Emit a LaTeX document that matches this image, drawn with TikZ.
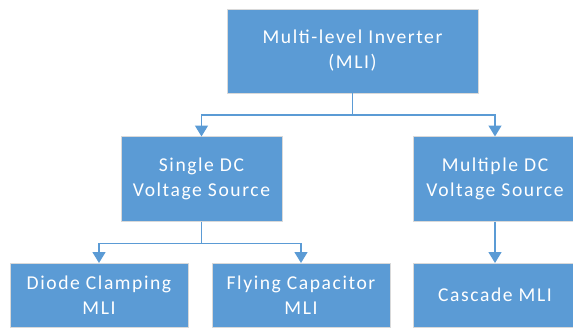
\documentclass[tikz,border=0pt]{standalone}
\usepackage{fontspec}
\setmainfont{Carlito}[LetterSpace=8]
\usetikzlibrary{arrows.meta}
\definecolor{boxblue}{HTML}{5B9BD5}
\definecolor{boxedge}{HTML}{D9D9D9}
\tikzset{
  box/.style={rectangle, fill=boxblue, draw=boxedge, line width=0.8pt, outer sep=0pt,
    inner sep=0pt, align=center, text=white,
    font=\fontsize{19.6}{25}\selectfont},
  conn/.style={draw=boxblue, line width=1.5pt, -{Triangle[length=11pt,width=13pt]}}
}
\begin{document}
\begin{tikzpicture}[x=1pt,y=-1pt]
\useasboundingbox (0,0) rectangle (573,327);
\clip (0,0) rectangle (573,327);
\node[box, minimum width=251pt, minimum height=84pt] (top) at (352.5,51) {Multi-level Inverter\\(MLI)};
\node[box, minimum width=161pt, minimum height=85pt] (single) at (201.5,179) {Single DC\\Voltage Source};
\node[box, minimum width=164pt, minimum height=85pt] (multi) at (495,179) {Multiple DC\\Voltage Source};
\node[box, minimum width=178pt, minimum height=64pt] (diode) at (99,295) {Diode Clamping\\MLI};
\node[box, minimum width=178pt, minimum height=64pt] (flying) at (301,295) {Flying Capacitor\\MLI};
\node[box, minimum width=164pt, minimum height=64pt] (cascade) at (495,295) {Cascade MLI};
\draw[conn] (top.south) -- ++(0,22) -| (single.north);
\draw[conn] (top.south) -- ++(0,22) -| (multi.north);
\draw[conn] (single.south) -- ++(0,22) -| (diode.north);
\draw[conn] (single.south) -- ++(0,22) -| (flying.north);
\draw[conn] (multi.south) -- (cascade.north);
\end{tikzpicture}
\end{document}
